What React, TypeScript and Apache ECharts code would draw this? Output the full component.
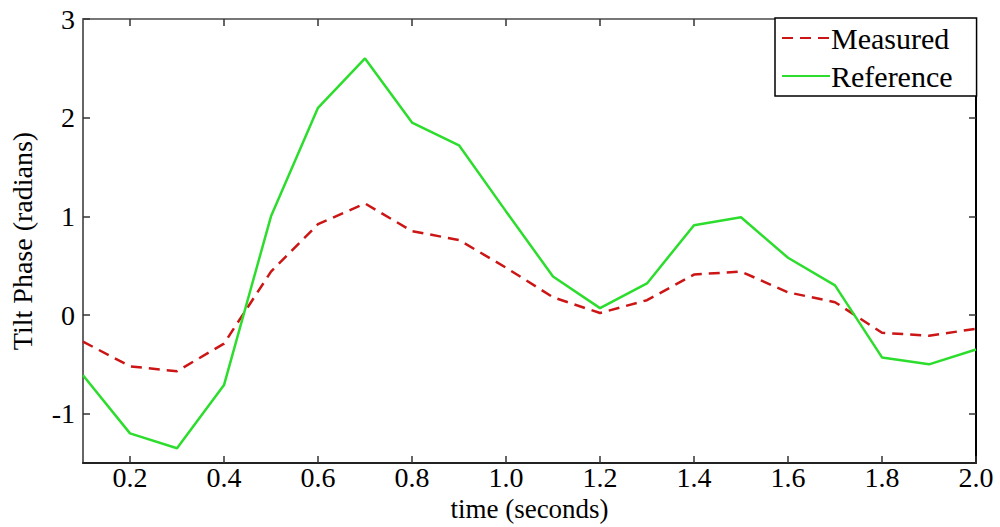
import React, { useEffect, useRef } from "react";
import * as echarts from "echarts";

const times = [0.1, 0.2, 0.3, 0.4, 0.5, 0.6, 0.7, 0.8, 0.9, 1.0, 1.1, 1.2, 1.3, 1.4, 1.5, 1.6, 1.7, 1.8, 1.9, 2.0];
const measured = [-0.27, -0.52, -0.57, -0.29, 0.44, 0.92, 1.13, 0.85, 0.76, 0.48, 0.18, 0.02, 0.15, 0.41, 0.44, 0.23, 0.13, -0.18, -0.21, -0.14];
const reference = [-0.61, -1.2, -1.35, -0.71, 1.0, 2.1, 2.6, 1.95, 1.72, 1.05, 0.39, 0.07, 0.32, 0.91, 0.99, 0.58, 0.3, -0.43, -0.5, -0.35];
const xTicks = [0.2, 0.4, 0.6, 0.8, 1.0, 1.2, 1.4, 1.6, 1.8, 2.0];
const yTicks = [-1, 0, 1, 2, 3];

const FONT = "Liberation Serif";

export default function App() {
  const ref = useRef<HTMLDivElement>(null);
  useEffect(() => {
    if (!ref.current) return;
    const chart = echarts.init(ref.current, undefined, { renderer: "svg" });
    const tick = { show: true, inside: true, length: 7, lineStyle: { color: "#333", width: 1.5 } };
    chart.setOption({
      animation: false,
      backgroundColor: "#fff",
      grid: { left: 83, right: 24, top: 19, bottom: 64, containLabel: false, outerBoundsMode: "none" },
      legend: {
        orient: "vertical",
        left: 775,
        top: 18,
        padding: [5, 24, 5, 6],
        itemGap: 8,
        itemWidth: 48,
        itemHeight: 14,
        borderColor: "#000",
        borderWidth: 1.5,
        backgroundColor: "#fff",
        itemStyle: { opacity: 0 },
        textStyle: { fontFamily: FONT, fontSize: 30, color: "#000", padding: [0, 0, 0, -4] },
        data: ["Measured", "Reference"],
      },
      xAxis: [
        {
          type: "value",
          min: 0.1,
          max: 2.0,
          name: "time (seconds)",
          nameLocation: "middle",
          nameGap: 24,
          nameTextStyle: { fontFamily: FONT, fontSize: 27, color: "#000", lineHeight: 26 },
          axisLine: { show: true, onZero: false, lineStyle: { color: "#222", width: 2 } },
          axisTick: { ...tick, customValues: xTicks },
          axisLabel: {
            fontFamily: FONT,
            fontSize: 28,
            lineHeight: 22,
            color: "#000",
            margin: 3,
            customValues: xTicks,
            formatter: (v: number) => v.toFixed(1),
          },
          splitLine: { show: false },
        },
        {
          type: "value",
          position: "top",
          min: 0.1,
          max: 2.0,
          axisLine: { show: true, onZero: false, lineStyle: { color: "#777", width: 2 } },
          axisTick: { ...tick, customValues: xTicks },
          axisLabel: { show: false, customValues: xTicks },
          splitLine: { show: false },
        },
      ],
      yAxis: [
        {
          type: "value",
          min: -1.5,
          max: 3,
          name: "Tilt Phase (radians)",
          nameLocation: "middle",
          nameGap: 47,
          nameTextStyle: { fontFamily: FONT, fontSize: 28, color: "#000" },
          axisLine: { show: true, onZero: false, lineStyle: { color: "#666", width: 2 } },
          axisTick: { ...tick, customValues: yTicks },
          axisLabel: { fontFamily: FONT, fontSize: 28, color: "#000", margin: 8, customValues: yTicks },
          splitLine: { show: false },
        },
        {
          type: "value",
          position: "right",
          min: -1.5,
          max: 3,
          axisLine: { show: true, onZero: false, lineStyle: { color: "#000", width: 2 } },
          axisTick: { ...tick, customValues: yTicks },
          axisLabel: { show: false, customValues: yTicks },
          splitLine: { show: false },
        },
      ],
      series: [
        {
          name: "Measured",
          type: "line",
          data: times.map((t, i) => [t, measured[i]]),
          showSymbol: false,
          symbol: "none",
          lineStyle: { color: "#cc1515", width: 2.5, type: [11, 7] },
          itemStyle: { color: "#cc1515" },
        },
        {
          name: "Reference",
          type: "line",
          data: times.map((t, i) => [t, reference[i]]),
          showSymbol: false,
          symbol: "none",
          lineStyle: { color: "#2ddd2d", width: 2.5 },
          itemStyle: { color: "#2ddd2d" },
        },
      ],
    });
    return () => chart.dispose();
  }, []);
  return <div ref={ref} style={{ width: 1000, height: 527, position: "absolute", left: 0, top: 0 }} />;
}
